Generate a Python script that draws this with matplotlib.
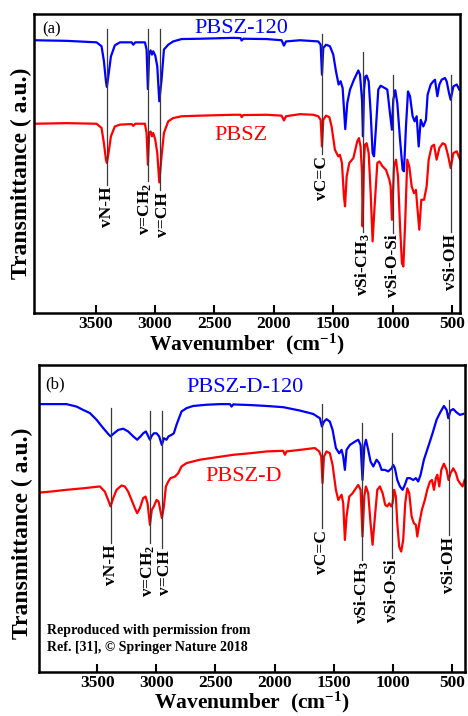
import matplotlib
matplotlib.use('Agg')
import matplotlib.pyplot as plt
from matplotlib.transforms import offset_copy

plt.rcParams['font.family'] = ['Liberation Serif', 'DejaVu Serif']
plt.rcParams['mathtext.default'] = 'regular'

# ---- panel (a): PBSZ-120 (blue) and PBSZ (red), wavenumber in cm-1, transmittance in a.u.
wn_a_blue = [4017, 3744, 3492, 3450, 3430, 3413, 3405, 3391, 3371, 3338, 3295, 3197, 3183, 3166,
             3085, 3071, 3060, 3049, 3037, 3026, 3015, 2998, 2981, 2964, 2945, 2925, 2889, 2847,
             2776, 2622, 2341, 2280, 2271, 2257, 2061, 1935, 1915, 1898, 1780, 1626, 1606, 1595,
             1584, 1561, 1528, 1500, 1477, 1455, 1438, 1421, 1399, 1382, 1359, 1326, 1289, 1275,
             1258, 1250, 1241, 1230, 1219, 1202, 1185, 1169, 1157, 1140, 1121, 1101, 1065, 1045,
             1023, 1006, 995, 978, 961, 938, 916, 905, 888, 871, 854, 832, 815, 798, 781, 764,
             742, 720, 706, 680, 658, 644, 624, 607, 588, 560, 546, 526, 512, 489, 461, 439]
t_a_blue = [91.1, 90.9, 90.4, 89.1, 84.1, 77.4, 75.5, 79.6, 85.7, 89.4, 90.4, 90.4, 89.6, 90.4,
            90.4, 88.0, 74.8, 86.8, 87.7, 86.3, 87.4, 86.0, 82.4, 70.7, 77.9, 88.0, 89.6, 90.7,
            91.5, 91.6, 91.9, 91.8, 91.0, 91.6, 91.5, 91.1, 89.3, 90.7, 91.1, 90.7, 89.6, 79.6,
            88.5, 89.6, 89.1, 86.3, 80.7, 76.3, 77.4, 75.1, 61.4, 70.1, 74.6, 77.9, 81.0, 79.6,
            71.2, 59.0, 74.6, 79.0, 79.3, 77.4, 66.8, 53.4, 52.3, 62.3, 74.6, 75.9, 75.1, 74.6,
            66.8, 61.2, 71.2, 74.4, 70.1, 57.9, 47.8, 47.3, 62.3, 74.0, 72.4, 65.7, 64.0, 65.7,
            55.6, 64.5, 62.3, 64.5, 72.9, 76.3, 77.4, 77.9, 72.4, 76.3, 77.9, 78.5, 77.4, 73.5,
            71.2, 75.7, 76.3, 74.6]

wn_a_red = [4017, 3744, 3492, 3450, 3430, 3413, 3405, 3391, 3371, 3338, 3295, 3197, 3183, 3166,
            3085, 3071, 3060, 3049, 3037, 3026, 3015, 2998, 2981, 2964, 2945, 2925, 2889, 2847,
            2776, 2622, 2341, 2280, 2271, 2257, 2061, 1935, 1915, 1898, 1780, 1668, 1626, 1606,
            1595, 1584, 1561, 1533, 1514, 1486, 1458, 1444, 1427, 1410, 1401, 1387, 1365, 1331,
            1298, 1284, 1270, 1258, 1253, 1241, 1233, 1219, 1202, 1185, 1169, 1152, 1129, 1112,
            1084, 1056, 1028, 1017, 1006, 989, 972, 955, 938, 922, 910, 894, 877, 860, 840, 821,
            804, 793, 776, 759, 736, 714, 697, 672, 652, 630, 607, 579, 557, 532, 512, 489, 461,
            433]
t_a_red = [63.2, 63.4, 63.2, 61.8, 56.7, 51.2, 50.1, 53.4, 59.0, 62.3, 62.9, 63.1, 62.5, 63.2,
           63.2, 60.1, 49.5, 60.1, 60.6, 59.0, 60.1, 57.9, 53.4, 43.6, 52.3, 60.1, 64.0, 65.1,
           65.7, 65.9, 66.2, 66.2, 65.4, 66.1, 66.2, 65.9, 64.3, 65.7, 66.4, 66.2, 65.7, 64.5,
           55.6, 64.5, 65.9, 65.4, 62.3, 54.5, 52.3, 52.8, 50.1, 38.9, 35.6, 45.6, 50.1, 51.7,
           57.3, 58.4, 55.6, 46.7, 28.9, 51.2, 56.2, 56.7, 53.4, 40.0, 23.9, 35.6, 50.1, 50.6,
           48.9, 47.8, 44.5, 42.3, 31.1, 48.9, 51.2, 45.6, 28.9, 16.6, 15.5, 31.1, 51.2, 48.9,
           42.3, 40.0, 41.1, 35.6, 27.8, 37.8, 37.8, 42.3, 51.2, 55.6, 56.2, 51.2, 55.1, 56.7,
           56.2, 52.3, 48.4, 53.4, 54.0, 51.2]

# ---- panel (b): PBSZ-D-120 (blue) and PBSZ-D (red)
wn_b_blue = [3984, 3759, 3674, 3618, 3562, 3505, 3449, 3407, 3387, 3364, 3322, 3280, 3238, 3195,
             3162, 3133, 3111, 3088, 3074, 3054, 3038, 3021, 2998, 2976, 2953, 2936, 2914, 2897,
             2871, 2852, 2829, 2787, 2744, 2688, 2575, 2463, 2378, 2364, 2350, 2209, 2068, 1927,
             1786, 1674, 1617, 1600, 1583, 1561, 1533, 1510, 1482, 1454, 1434, 1420, 1406, 1392,
             1364, 1321, 1293, 1273, 1257, 1242, 1228, 1209, 1189, 1166, 1138, 1116, 1096, 1068,
             1040, 1011, 997, 983, 963, 941, 918, 899, 879, 856, 828, 806, 786, 766, 738, 701,
             665, 631, 603, 569, 546, 532, 513, 490, 462, 434, 406]
t_b_blue = [87.2, 87.2, 86.4, 85.3, 84.3, 82.1, 79.4, 77.5, 76.7, 77.5, 78.8, 79.2, 78.3, 76.7,
            75.6, 76.7, 77.7, 78.3, 77.2, 75.6, 76.9, 77.7, 77.7, 76.7, 73.9, 76.1, 75.6, 76.7,
            77.2, 77.7, 80.5, 84.8, 85.9, 86.6, 87.0, 87.2, 87.2, 86.4, 87.1, 86.9, 86.6, 86.2,
            85.1, 84.0, 82.6, 79.9, 81.5, 82.3, 81.5, 78.8, 72.9, 71.2, 72.3, 70.1, 65.8, 72.3,
            73.9, 75.0, 75.6, 73.9, 62.5, 73.4, 75.6, 72.3, 68.5, 66.9, 69.1, 68.0, 65.8, 65.8,
            65.3, 66.3, 67.4, 66.3, 62.5, 60.4, 59.3, 60.9, 63.1, 63.1, 62.5, 63.1, 62.0, 64.2,
            69.1, 73.4, 77.7, 82.1, 84.3, 86.6, 85.3, 82.6, 85.1, 85.6, 84.5, 83.7, 84.0]

wn_b_red = [3984, 3900, 3759, 3618, 3477, 3435, 3407, 3387, 3364, 3336, 3294, 3266, 3238, 3209,
            3181, 3162, 3139, 3111, 3091, 3074, 3054, 3038, 3021, 2998, 2981, 2953, 2936, 2919,
            2899, 2880, 2843, 2815, 2787, 2744, 2632, 2491, 2350, 2209, 2068, 1927, 1913, 1899,
            1786, 1660, 1623, 1606, 1595, 1583, 1561, 1533, 1510, 1482, 1462, 1434, 1420, 1406,
            1392, 1369, 1341, 1313, 1293, 1273, 1257, 1242, 1228, 1209, 1189, 1172, 1152, 1132,
            1110, 1087, 1065, 1048, 1031, 1014, 1003, 989, 975, 963, 947, 930, 913, 896, 879,
            862, 842, 823, 806, 794, 777, 755, 730, 710, 687, 670, 653, 637, 625, 608, 591, 569,
            546, 530, 513, 490, 467, 451, 434, 411, 394]
t_b_red = [58.4, 58.7, 59.3, 59.8, 60.4, 58.7, 56.0, 53.9, 56.6, 59.3, 60.7, 60.4, 58.7, 56.0,
           53.3, 51.7, 53.3, 56.6, 57.1, 54.9, 47.9, 52.8, 53.9, 56.0, 55.5, 50.1, 53.9, 60.4,
           62.0, 63.1, 63.6, 64.7, 66.9, 68.0, 69.1, 69.9, 70.7, 71.2, 71.8, 72.0, 70.7, 71.8,
           72.3, 72.9, 71.8, 70.1, 61.5, 70.1, 71.8, 71.2, 67.4, 59.3, 56.0, 57.7, 54.9, 43.0,
           50.6, 57.1, 58.2, 59.8, 60.9, 59.3, 44.1, 57.1, 60.4, 58.2, 48.4, 41.4, 50.6, 59.3,
           60.4, 58.2, 54.4, 53.9, 54.9, 53.9, 54.9, 59.3, 57.1, 48.4, 40.8, 39.2, 43.0, 54.9,
           59.8, 58.2, 50.6, 48.4, 47.9, 44.1, 48.4, 52.8, 56.0, 59.3, 62.0, 62.5, 59.3, 63.1,
           64.2, 60.4, 65.8, 67.8, 65.8, 62.5, 64.7, 66.3, 64.7, 62.5, 61.5, 60.4, 62.5]

# band assignments
band_labels = ['vN-H', 'v=CH$_2$', 'v=CH', 'vC=C', 'vSi-CH$_3$', 'vSi-O-Si', 'vSi-OH']
bands_a = [3405, 3060, 2960, 1593, 1248, 997, 512]
bands_b = [3387, 3051, 2950, 1597, 1259, 1009, 527]
ticks = [3500, 3000, 2500, 2000, 1500, 1000, 500]

fig = plt.figure(figsize=(4.68, 7.16), dpi=100)
ax1 = fig.add_axes([0.073, 0.563, 0.910, 0.418])
ax2 = fig.add_axes([0.083, 0.0615, 0.910, 0.429])


def style_axis(ax, xmax, xmin):
    ax.set_xlim(xmax, xmin)
    ax.set_ylim(0, 100)
    ax.set_yticks([])
    ax.set_xticks(ticks)
    ax.set_xticklabels([str(t) for t in ticks], fontsize=12.5, fontweight='bold')
    ax.tick_params(axis='x', direction='in', length=6, width=1.5, pad=2)
    for sp in ax.spines.values():
        sp.set_linewidth(1.8)
    ax.set_xlabel('Wavenumber  (cm$^{-1}$)', fontsize=15.5, fontweight='bold', va='bottom')
    ax.set_ylabel('Transmittance ( a.u.)', fontsize=17, fontweight='bold')


# small sideways nudges (points) so the two close =CH labels do not touch
nudge = [0, -1.5, 2.0, 0, 0, 0, 0]


def draw_bands(ax, bands, tops, bots):
    tr = ax.get_xaxis_transform()
    for wn, lab, t, b, dx in zip(bands, band_labels, tops, bots, nudge):
        ax.plot([wn, wn], [t, b], color='#3a3a3a', lw=0.9, transform=tr, zorder=5)
        ax.text(wn, b - 0.006, lab, rotation=90, ha='center', va='top',
                transform=offset_copy(tr, fig=fig, x=dx, y=0, units='points'),
                fontsize=12.5, fontweight='bold')


# panel (a)
ax1.plot(wn_a_blue, t_a_blue, color='#0000ff', lw=1.6)
ax1.plot(wn_a_red, t_a_red, color='#ff0000', lw=1.6)
style_axis(ax1, 4017, 433)
ax1.xaxis.set_label_coords(0.5, -0.147)
ax1.yaxis.set_label_coords(-0.005, 0.465)
draw_bands(ax1, bands_a,
           [0.950, 0.950, 0.950, 0.933, 0.873, 0.796, 0.796],
           [0.428, 0.440, 0.411, 0.530, 0.271, 0.268, 0.271])
ax1.text(0.019, 0.975, '(a)', transform=ax1.transAxes, fontsize=12, va='top', ha='left')
ax1.text(2277, 95, 'PBSZ-120', color='#0000ff', fontsize=16, ha='center', va='center')
ax1.text(2277, 59.2, 'PBSZ', color='#ff0000', fontsize=16, ha='center', va='center')

# panel (b)
ax2.plot(wn_b_blue, t_b_blue, color='#0000ff', lw=1.6)
ax2.plot(wn_b_red, t_b_red, color='#ff0000', lw=1.6)
style_axis(ax2, 3993, 393)
ax2.xaxis.set_label_coords(0.5, -0.140)
ax2.yaxis.set_label_coords(-0.014, 0.453)
draw_bands(ax2, bands_b,
           [0.860, 0.848, 0.851, 0.873, 0.812, 0.779, 0.886],
           [0.420, 0.420, 0.404, 0.469, 0.365, 0.371, 0.446])
ax2.text(0.014, 0.962, '(b)', transform=ax2.transAxes, fontsize=12, va='top', ha='left')
ax2.text(2251, 92.5, 'PBSZ-D-120', color='#0000ff', fontsize=16, ha='center', va='center')
ax2.text(2265, 63.5, 'PBSZ-D', color='#ff0000', fontsize=16, ha='center', va='center')
ax2.text(0.019, 0.155, 'Reproduced with permission from\nRef. [31], \u00a9 Springer Nature 2018',
         transform=ax2.transAxes, fontsize=10, fontweight='bold', va='top', ha='left',
         linespacing=1.35)

fig.savefig('out.png', dpi=100)
